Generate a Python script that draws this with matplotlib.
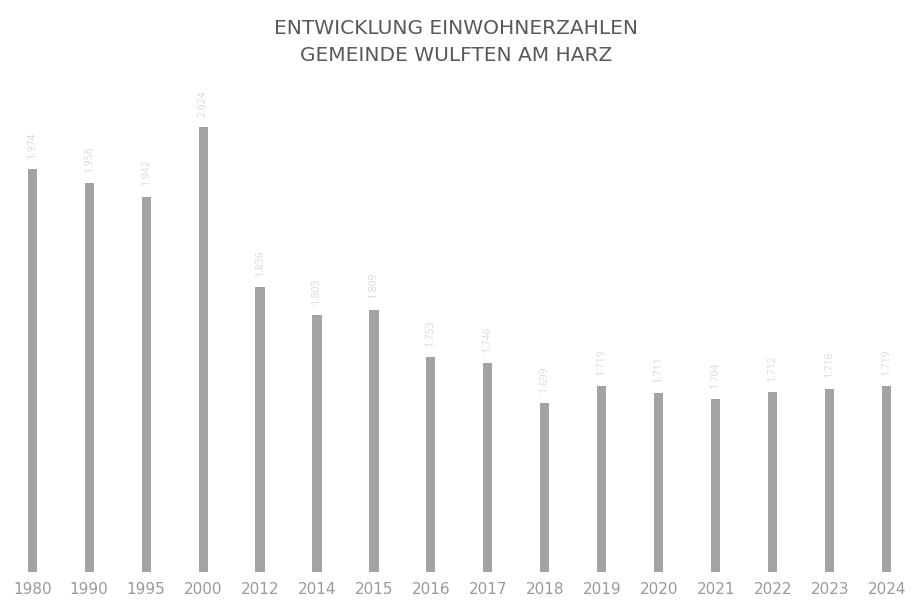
import matplotlib.pyplot as plt

# Einwohnerzahlen Wulften am Harz
jahre = ['1980', '1990', '1995', '2000', '2012', '2014', '2015', '2016',
         '2017', '2018', '2019', '2020', '2021', '2022', '2023', '2024']
einwohner = [1974, 1958, 1942, 2024, 1836, 1803, 1809, 1753,
             1746, 1699, 1719, 1711, 1704, 1712, 1716, 1719]

plt.rcParams['font.family'] = ['Open Sans', 'DejaVu Sans']

fig = plt.figure(figsize=(9.17, 6.03), dpi=100)
ax = fig.add_axes([0.004, 0.051, 0.994, 0.816])

x = range(len(jahre))
ax.bar(x, einwohner, width=0.16, color='#a3a3a3')

for i, v in zip(x, einwohner):
    txt = '{:,}'.format(v).replace(',', '.')
    ax.text(i, v + 12, txt, rotation=90, ha='center', va='bottom',
            fontsize=7.5, color='#dadada')

ax.set_xlim(-0.5, len(jahre) - 0.5)
ax.set_ylim(1500, 2079)
ax.set_xticks(list(x))
ax.set_xticklabels(jahre, fontsize=11, color='#9a9a9a', family='DejaVu Sans')
ax.tick_params(axis='x', length=0, pad=7)
ax.set_yticks([])
for s in ax.spines.values():
    s.set_visible(False)

fig.text(0.497, 0.892, 'ENTWICKLUNG EINWOHNERZAHLEN\nGEMEINDE WULFTEN AM HARZ',
         ha='center', va='bottom', fontsize=14.5, color='#595959',
         family='DejaVu Sans', linespacing=1.55)

fig.savefig('out.png', dpi=100)
